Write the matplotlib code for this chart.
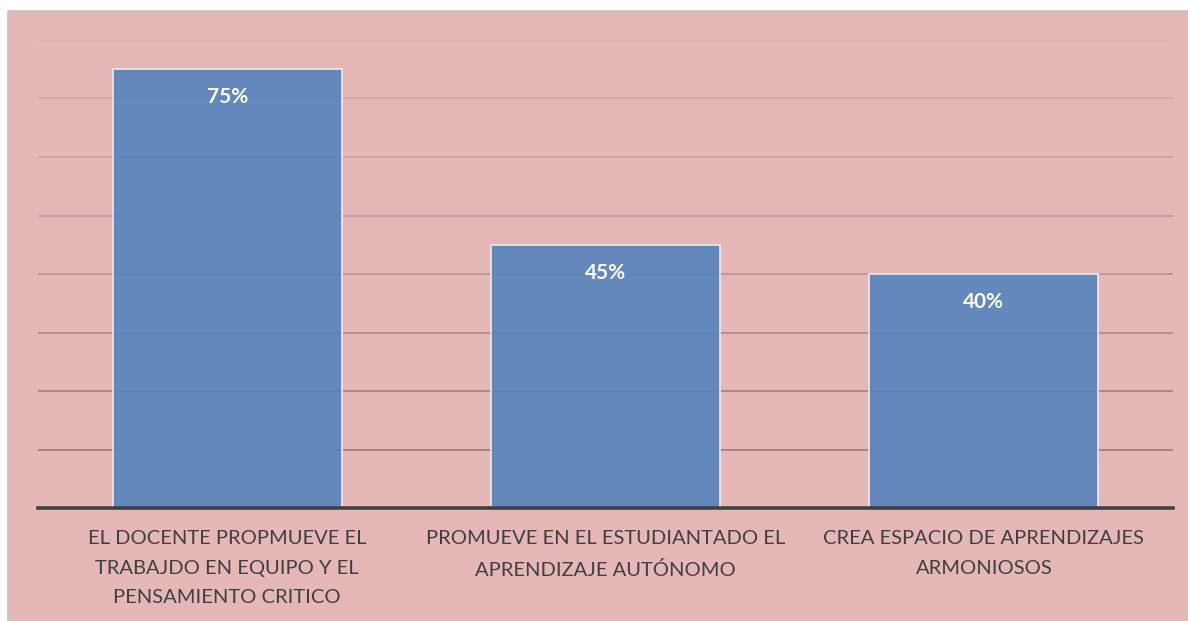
import matplotlib.pyplot as plt
import numpy as np
from matplotlib.patches import Rectangle

categories = [
    "EL DOCENTE PROPMUEVE EL\nTRABAJDO EN EQUIPO Y EL\nPENSAMIENTO CRITICO",
    "PROMUEVE EN EL ESTUDIANTADO EL\nAPRENDIZAJE AUTÓNOMO",
    "CREA ESPACIO DE APRENDIZAJES\nARMONIOSOS",
]
values = [75, 45, 40]
value_labels = ["75%", "45%", "40%"]
grid_levels = [10, 20, 30, 40, 50, 60, 70, 80]

W, H = 1188, 621
PINK = "#E5B8B7"

plt.rcParams["font.family"] = ["Lato", "DejaVu Sans"]

fig = plt.figure(figsize=(W / 100, H / 100), dpi=100)
fig.patch.set_facecolor("white")
fig.patches.append(Rectangle((8 / W, -0.05), 1.1, (H - 11) / H + 0.05,
                             transform=fig.transFigure, facecolor=PINK,
                             edgecolor="#C8C0C0", linewidth=1.2, zorder=-10))

ax = fig.add_axes([38 / W, (H - 508) / H, (1173 - 38) / W, (508 - 40) / H])
ax.set_facecolor("none")
ax.set_ylim(0, 80)
ax.set_xlim(-0.5, len(values) - 0.5)

# gridlines fade from dark near the axis to light at the top
grid_colors = plt.cm.colors.LinearSegmentedColormap.from_list("g", ["#9C7B7B", "#D2B3B3"])
for i, lvl in enumerate(grid_levels):
    ax.axhline(lvl, color=grid_colors(i / (len(grid_levels) - 1)), linewidth=1.2, zorder=1)

x = np.arange(len(values))
ax.bar(x, values, width=0.605, color="#5584BD", alpha=0.9,
       edgecolor="#E8ECF4", linewidth=1.3, zorder=2)

for xi, v, lab in zip(x, values, value_labels):
    ax.annotate(lab, (xi, v), xytext=(0, -28), textcoords="offset pixels",
                ha="center", va="center", color="white", fontsize=15,
                fontweight="bold", zorder=3)

ax.axhline(0, color="#404040", linewidth=2.6, zorder=4, clip_on=False)

ax.set_xticks(x)
ax.set_xticklabels(categories, fontsize=14.5, color="#404040", linespacing=1.9)
ax.tick_params(axis="x", length=0, pad=16)
ax.set_yticks([])
for s in ax.spines.values():
    s.set_visible(False)

fig.savefig("out.png", dpi=100)
